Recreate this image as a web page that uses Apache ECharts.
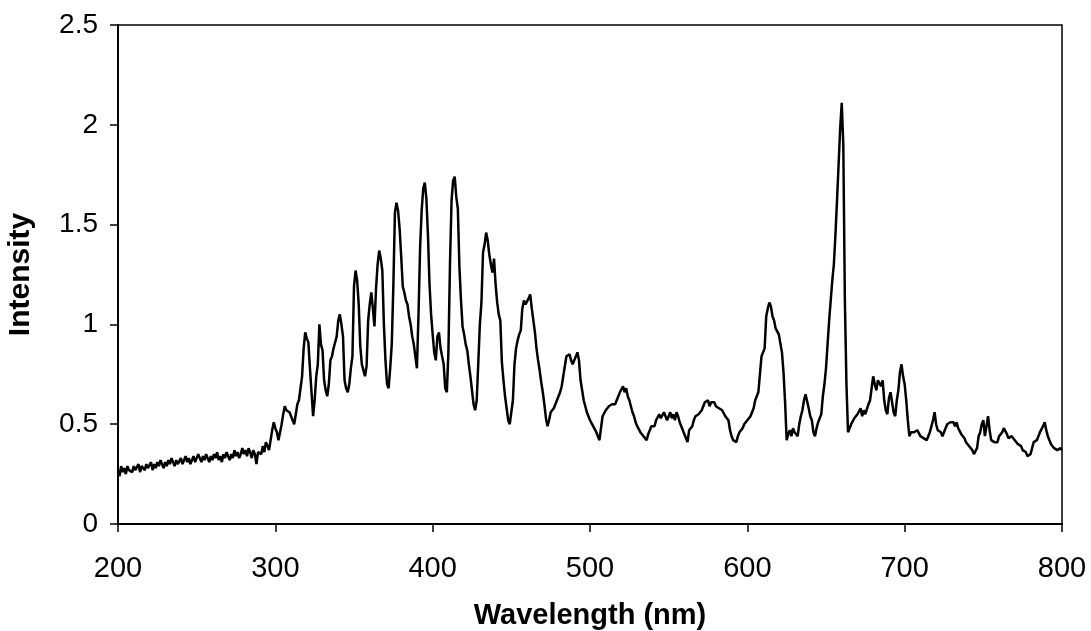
<!DOCTYPE html>
<html>
<head>
<meta charset="utf-8">
<script src="https://cdn.jsdelivr.net/npm/echarts@6/dist/echarts.min.js"></script>
<style>
html,body{margin:0;padding:0;background:#fff;}
#chart{width:1091px;height:631px;}
</style>
</head>
<body>
<div id="chart"></div>
<script>
// Spectrum sampled every 1 nm from 200 nm to 800 nm
var startWavelength = 200;
var stepNm = 1;
var intensity = [
/*200*/ .27,.24,.29,.26,.28,.25,.29,.27,.28,.26,
/*210*/ .29,.27,.28,.30,.26,.29,.28,.27,.30,.28,
/*220*/ .29,.31,.27,.30,.28,.31,.29,.32,.30,.28,
/*230*/ .31,.29,.32,.30,.33,.31,.29,.32,.30,.31,
/*240*/ .33,.30,.32,.34,.31,.33,.30,.32,.34,.31,
/*250*/ .32,.35,.33,.31,.34,.32,.35,.33,.31,.34,
/*260*/ .32,.35,.33,.36,.32,.34,.31,.35,.33,.36,
/*270*/ .34,.32,.35,.33,.37,.34,.36,.33,.35,.38,
/*280*/ .35,.37,.34,.38,.36,.33,.37,.35,.30,.36,
/*290*/ .37,.35,.39,.36,.41,.40,.37,.36,.47,.51,
/*300*/ .48,.46,.42,.41,.50,.55,.59,.57,.58,.56,
/*310*/ .56,.52,.50,.51,.60,.62,.68,.74,.88,.96,
/*320*/ .93,.91,.78,.66,.54,.62,.74,.80,1.00,.90,
/*330*/ .87,.72,.67,.64,.70,.82,.84,.88,.89,.94,
/*340*/ 1.02,1.05,1.00,.94,.72,.68,.66,.70,.78,.84,
/*350*/ 1.19,1.27,1.22,1.10,.89,.80,.77,.74,.79,1.02,
/*360*/ 1.10,1.16,1.08,.99,1.18,1.30,1.37,1.33,1.27,1.00,
/*370*/ .82,.70,.68,.78,.90,1.19,1.56,1.61,1.57,1.48,
/*380*/ 1.34,1.19,1.16,1.12,1.10,1.04,1.00,.94,.90,.84,
/*390*/ .78,1.05,1.38,1.57,1.68,1.71,1.63,1.45,1.20,1.05,
/*400*/ .95,.86,.82,.94,.96,.88,.89,.80,.68,.66,
/*410*/ .86,1.30,1.62,1.72,1.74,1.64,1.58,1.29,1.12,.99,
/*420*/ .95,.90,.87,.80,.74,.67,.60,.57,.62,.81,
/*430*/ 1.00,1.11,1.36,1.40,1.46,1.42,1.35,1.30,1.26,1.33,
/*440*/ 1.20,1.11,1.05,1.02,.81,.72,.64,.58,.52,.50,
/*450*/ .50,.62,.80,.88,.92,.95,.97,1.08,1.12,1.10,
/*460*/ 1.11,1.13,1.15,1.08,1.02,.96,.88,.82,.77,.71,
/*470*/ .66,.60,.53,.49,.52,.56,.57,.58,.60,.61,
/*480*/ .64,.66,.69,.74,.79,.84,.83,.85,.82,.80,
/*490*/ .79,.84,.86,.82,.72,.67,.62,.59,.56,.54,
/*500*/ .52,.51,.49,.48,.46,.44,.42,.41,.54,.55,
/*510*/ .57,.56,.59,.58,.60,.61,.60,.62,.63,.66,
/*520*/ .67,.69,.66,.68,.64,.62,.59,.56,.54,.51,
/*530*/ .49,.48,.46,.45,.44,.43,.42,.45,.47,.49,
/*540*/ .50,.49,.52,.52,.55,.53,.54,.56,.55,.52,
/*550*/ .54,.56,.53,.55,.52,.56,.54,.51,.49,.48,
/*560*/ .45,.43,.41,.47,.48,.49,.52,.54,.53,.55,
/*570*/ .54,.57,.59,.61,.60,.62,.59,.61,.60,.61,
/*580*/ .59,.60,.58,.59,.57,.56,.54,.53,.52,.47,
/*590*/ .44,.42,.43,.41,.44,.46,.45,.48,.50,.49,
/*600*/ .52,.51,.54,.56,.58,.62,.64,.66,.75,.84,
/*610*/ .86,.88,1.04,1.08,1.11,1.09,1.04,1.02,.98,.97,
/*620*/ .95,.94,.86,.76,.61,.42,.45,.47,.44,.48,
/*630*/ .46,.45,.44,.50,.54,.57,.62,.65,.64,.58,
/*640*/ .54,.52,.46,.44,.48,.51,.52,.55,.64,.70,
/*650*/ .78,.90,1.02,1.12,1.22,1.30,1.45,1.62,1.80,1.98,
/*660*/ 2.11,1.90,1.12,.70,.46,.47,.50,.51,.53,.52,
/*670*/ .55,.56,.58,.54,.57,.55,.54,.60,.62,.68,
/*680*/ .74,.70,.67,.72,.71,.69,.72,.62,.57,.55,
/*690*/ .63,.66,.61,.56,.54,.62,.67,.76,.80,.74,
/*700*/ .70,.62,.52,.44,.46,.47,.46,.45,.47,.46,
/*710*/ .44,.45,.43,.42,.42,.44,.46,.49,.52,.56,
/*720*/ .50,.47,.48,.46,.44,.46,.48,.50,.49,.51,
/*730*/ .50,.51,.49,.51,.48,.47,.45,.44,.43,.41,
/*740*/ .40,.39,.38,.37,.35,.34,.38,.44,.46,.50,
/*750*/ .52,.44,.49,.54,.47,.42,.43,.41,.42,.41,
/*760*/ .44,.43,.46,.48,.49,.45,.43,.42,.44,.43,
/*770*/ .42,.42,.40,.41,.39,.37,.38,.36,.34,.33,
/*780*/ .35,.38,.41,.40,.42,.44,.46,.47,.49,.51,
/*790*/ .47,.44,.42,.40,.39,.38,.39,.37,.38,.38,
/*800*/ .37
];
var xTicks = [200, 300, 400, 500, 600, 700, 800];
var yTicks = [0, 0.5, 1, 1.5, 2, 2.5];

var seriesData = intensity.map(function (v, i) {
  return [startWavelength + i * stepNm, v];
});

var fontFam = '"Liberation Sans", Arial, Helvetica, sans-serif';
var chart = echarts.init(document.getElementById('chart'), null, {renderer: 'canvas'});
chart.setOption({
  animation: false,
  backgroundColor: '#ffffff',
  grid: {
    left: 118, right: 29, top: 25, bottom: 107,
    containLabel: false,
    outerBoundsMode: 'none',
    show: true, borderColor: '#000', borderWidth: 1.5, backgroundColor: 'transparent'
  },
  xAxis: {
    type: 'value',
    min: xTicks[0], max: xTicks[xTicks.length - 1], interval: 100,
    name: 'Wavelength (nm)',
    nameLocation: 'middle',
    nameGap: 77,
    nameTextStyle: {fontFamily: fontFam, fontSize: 29, fontWeight: 'bold', color: '#000'},
    axisLine: {show: true, onZero: false, lineStyle: {color: '#000', width: 2}},
    axisTick: {show: true, inside: false, length: 8, lineStyle: {color: '#000', width: 1.5}},
    axisLabel: {margin: 30, fontFamily: fontFam, fontSize: 29, color: '#000'},
    splitLine: {show: false}
  },
  yAxis: {
    type: 'value',
    min: yTicks[0], max: yTicks[yTicks.length - 1], interval: 0.5,
    name: 'Intensity',
    nameLocation: 'middle',
    nameRotate: 90,
    nameGap: 82,
    nameTextStyle: {fontFamily: fontFam, fontSize: 30, fontWeight: 'bold', color: '#000'},
    axisLine: {show: true, onZero: false, lineStyle: {color: '#000', width: 2}},
    axisTick: {show: true, inside: false, length: 8, lineStyle: {color: '#000', width: 1.5}},
    axisLabel: {margin: 20, fontFamily: fontFam, fontSize: 28, color: '#000'},
    splitLine: {show: false}
  },
  series: [{
    type: 'line',
    data: seriesData,
    showSymbol: false,
    symbol: 'none',
    smooth: false,
    lineStyle: {color: '#000', width: 2.5},
    itemStyle: {color: '#000'}
  }]
});
</script>
</body>
</html>
